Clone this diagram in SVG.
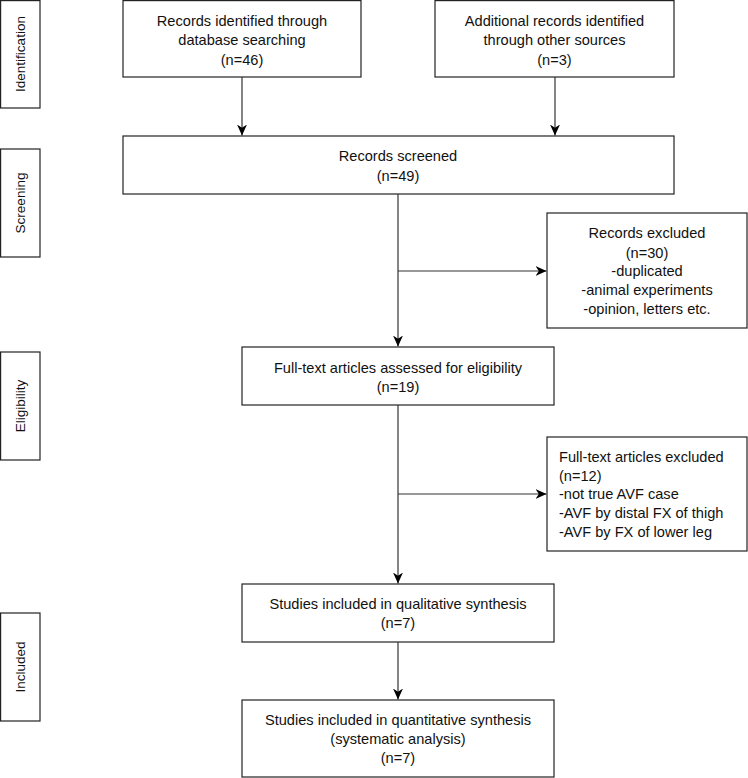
<svg xmlns="http://www.w3.org/2000/svg" width="748" height="778" viewBox="0 0 748 778">
<style>
rect{fill:#fff;stroke:#222;stroke-width:1.2}
text{font-family:"Liberation Sans",Arial,sans-serif;font-size:14.6px;fill:#111}
.s{font-size:13.5px}
.c{text-anchor:middle}
.l{text-anchor:start}
line{stroke:#333;stroke-width:1.2}
</style>
<defs>
<marker id="ah" viewBox="0 0 10 10" refX="10" refY="5" markerWidth="11" markerHeight="10" markerUnits="userSpaceOnUse" orient="auto" preserveAspectRatio="none">
<path d="M0,0 L10,5 L0,10 L3,5 Z" fill="#000"/>
</marker>
</defs>
<rect width="748" height="778" style="fill:#fff;stroke:none"/>
<g id="stage-identification"><rect x="0.6" y="0.6" width="39.4" height="107.4"/><text class="c s" transform="translate(25,54) rotate(-90)">Identification</text></g>
<g id="stage-screening"><rect x="0.6" y="149" width="39.4" height="108"/><text class="c s" transform="translate(25,203) rotate(-90)">Screening</text></g>
<g id="stage-eligibility"><rect x="0.6" y="352" width="39.4" height="108"/><text class="c s" transform="translate(25,406) rotate(-90)">Eligibility</text></g>
<g id="stage-included"><rect x="0.6" y="613" width="39.4" height="108"/><text class="c s" transform="translate(25,667) rotate(-90)">Included</text></g>

<g id="n-db"><rect x="123" y="0.6" width="238" height="76.4"/>
<text class="c" x="242" y="26">Records identified through</text>
<text class="c" x="242" y="45">database searching</text>
<text class="c" x="242" y="64.5">(n=46)</text></g>
<g id="n-other"><rect x="435" y="0.6" width="239" height="76.4"/>
<text class="c" x="554.5" y="26">Additional records identified</text>
<text class="c" x="554.5" y="45">through other sources</text>
<text class="c" x="554.5" y="64.5">(n=3)</text></g>
<g id="n-screened"><rect x="123" y="136" width="551" height="58"/>
<text class="c" x="398" y="161">Records screened</text>
<text class="c" x="398" y="180.5">(n=49)</text></g>
<g id="n-excl1"><rect x="547" y="213" width="200" height="115"/>
<text class="c" x="647" y="238">Records excluded</text>
<text class="c" x="647" y="257.5">(n=30)</text>
<text class="c" x="647" y="276">-duplicated</text>
<text class="c" x="647" y="295">-animal experiments</text>
<text class="c" x="647" y="313.5">-opinion, letters etc.</text></g>
<g id="n-fulltext"><rect x="242" y="347" width="312" height="58"/>
<text class="c" x="398" y="373">Full-text articles assessed for eligibility</text>
<text class="c" x="398" y="392">(n=19)</text></g>
<g id="n-excl2"><rect x="547" y="437" width="200" height="114"/>
<text class="l" x="559" y="462">Full-text articles excluded</text>
<text class="l" x="559" y="481">(n=12)</text>
<text class="l" x="559" y="499">-not true AVF case</text>
<text class="l" x="559" y="518">-AVF by distal FX of thigh</text>
<text class="l" x="559" y="537">-AVF by FX of lower leg</text></g>
<g id="n-qual"><rect x="242" y="584" width="312" height="58"/>
<text class="c" x="398" y="609">Studies included in qualitative synthesis</text>
<text class="c" x="398" y="628">(n=7)</text></g>
<g id="n-quant"><rect x="242" y="700" width="312" height="77"/>
<text class="c" x="398" y="725">Studies included in quantitative synthesis</text>
<text class="c" x="398" y="744">(systematic analysis)</text>
<text class="c" x="398" y="763">(n=7)</text></g>

<g id="connectors">
<line x1="242" y1="77" x2="242" y2="135.5" marker-end="url(#ah)"/>
<line x1="555" y1="77" x2="555" y2="135.5" marker-end="url(#ah)"/>
<line x1="398" y1="194" x2="398" y2="346.5" marker-end="url(#ah)"/>
<line x1="398" y1="271" x2="546.5" y2="271" marker-end="url(#ah)"/>
<line x1="398" y1="405" x2="398" y2="583.5" marker-end="url(#ah)"/>
<line x1="398" y1="494" x2="546.5" y2="494" marker-end="url(#ah)"/>
<line x1="398" y1="642" x2="398" y2="699.5" marker-end="url(#ah)"/>
</g>
</svg>
